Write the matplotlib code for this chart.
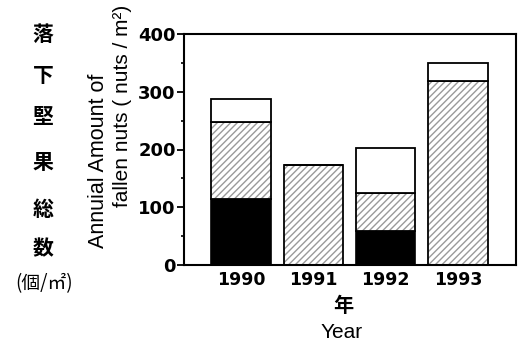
import matplotlib.pyplot as plt
from matplotlib.ticker import MultipleLocator
import numpy as np

# Annual fallen nuts per square metre, split into three parts
years = ['1990', '1991', '1992', '1993']
black_part = [114, 0, 59, 0]
hatched_part = [134, 173, 65, 318]
white_part = [40, 0, 79, 32]

fig = plt.figure(figsize=(5.21, 3.44), dpi=100)
ax = fig.add_axes([184 / 521, 1 - 265 / 344, 332 / 521, 231 / 344])

x = np.arange(len(years))
w = 0.82
black = np.array(black_part)
hatched = np.array(hatched_part)
white = np.array(white_part)

ax.bar(x, black, w, color='black', edgecolor='black', linewidth=1.2)
# hatch drawn in grey first, outline in black on top
ax.bar(x, hatched, w, bottom=black, color='white', edgecolor='#9a9a9a',
       hatch='/////', linewidth=0)
ax.bar(x, hatched, w, bottom=black, fill=False, edgecolor='black', linewidth=1.3)
ax.bar(x, white, w, bottom=black + hatched, color='white', edgecolor='black',
       linewidth=1.3)

ax.set_xlim(-0.79, 3.80)
ax.set_ylim(0, 400)
ax.yaxis.set_major_locator(MultipleLocator(100))
ax.yaxis.set_minor_locator(MultipleLocator(50))
ax.set_xticks(x)
ax.set_xticklabels(years)
for s in ax.spines.values():
    s.set_linewidth(1.5)
ax.tick_params(axis='y', which='major', direction='out', length=5, width=1.3,
               pad=1, labelsize=13)
ax.tick_params(axis='y', which='minor', direction='out', length=2.5, width=1.2)
ax.tick_params(axis='x', length=0, pad=4, labelsize=12.5)
for lab in ax.get_xticklabels() + ax.get_yticklabels():
    lab.set_fontweight('bold')

# Japanese axis titles
jp = ['Noto Sans CJK JP', 'DejaVu Sans']
for ch, yy in zip('落下堅果総数', [34, 76, 117, 163, 209, 249]):
    fig.text(43 / 521, 1 - yy / 344, ch, family=jp, fontsize=15,
             fontweight='bold', ha='center', va='center')
fig.text(44 / 521, 1 - 284 / 344, '(個/㎡)', family=jp, fontsize=13.5,
         ha='center', va='center')
fig.text(343 / 521, 1 - 305 / 344, '年', family=jp, fontsize=14.5,
         fontweight='bold', ha='center', va='center')

# English axis titles
en = ['Liberation Sans', 'DejaVu Sans']
fig.text(98 / 521, 1 - 161 / 344, 'Annuial Amount of', family=en, fontsize=15.5,
         rotation=90, ha='center', va='center')
fig.text(123 / 521, 1 - 106 / 344, 'fallen nuts ( nuts / m²)', family=en,
         fontsize=15, rotation=90, ha='center', va='center')
fig.text(342 / 521, 1 - 333 / 344, 'Year', family=en, fontsize=15,
         ha='center', va='center')

fig.savefig('out.png', dpi=100)
